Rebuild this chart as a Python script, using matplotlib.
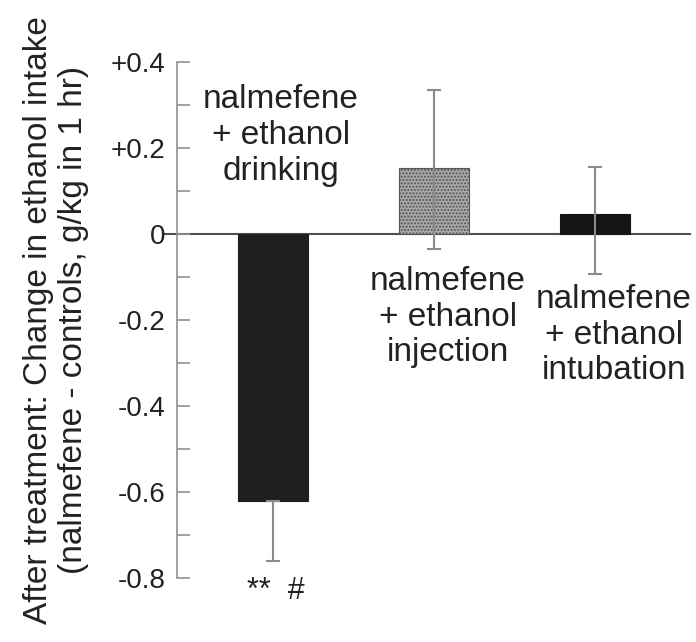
import matplotlib.pyplot as plt
import numpy as np

plt.rcParams['font.family'] = ['Liberation Sans', 'DejaVu Sans']

labels = ["nalmefene\n+ ethanol\ndrinking", "nalmefene\n+ ethanol\ninjection", "nalmefene\n+ ethanol\nintubation"]
values = [-0.62, 0.155, 0.047]
err_low = [0.14, 0.19, 0.14]
err_high = [0.0, 0.18, 0.11]
yticks = [0.4, 0.2, 0.0, -0.2, -0.4, -0.6, -0.8]
yticklabels = ["+0.4", "+0.2", "0", "-0.2", "-0.4", "-0.6", "-0.8"]

fig = plt.figure(figsize=(6.96, 6.42), dpi=100)
ax = fig.add_axes([0.254, 0.0997, 0.737, 0.8033])

x = np.arange(3)
w = 0.435
faces = ['#1e1e1e', '#a8a8a8', '#151515']
hatches = [None, '.....', None]
for i in range(3):
    ax.bar(x[i], values[i], width=w, color=faces[i], edgecolor='#555555' if i == 1 else faces[i],
           hatch=hatches[i], linewidth=0.8, zorder=2)

ax.errorbar(x, values, yerr=[err_low, err_high], fmt='none', ecolor='#8a8a8a',
            elinewidth=1.5, capsize=5, capthick=1.5, zorder=3)

ax.plot([-0.68, 2.59], [0, 0], color='#505050', lw=1.5, clip_on=False, zorder=1)

ax.set_xlim(-0.596, 2.59)
ax.set_ylim(-0.8, 0.4)
ax.set_yticks(yticks)
ax.set_yticklabels(yticklabels)
ax.set_yticks(np.arange(-0.7, 0.4, 0.2), minor=True)
ax.tick_params(axis='y', which='both', direction='in', length=9, width=1.2, color='#909090',
               labelsize=20, pad=8, labelcolor='#222222')
ax.tick_params(axis='x', bottom=False, labelbottom=False)
for s in ['top', 'right', 'bottom']:
    ax.spines[s].set_visible(False)
ax.spines['left'].set_color('#909090')
ax.spines['left'].set_linewidth(1.2)

ax.set_ylabel("After treatment: Change in ethanol intake\n(nalmefene - controls, g/kg in 1 hr)",
              fontsize=24, labelpad=16, linespacing=1.15, color='#222222')

txt_kw = dict(ha='center', va='center', fontsize=24, linespacing=1.2, color='#222222')
ax.text(0.05, 0.23, labels[0], **txt_kw)
ax.text(1.087, -0.193, labels[1], **txt_kw)
ax.text(2.12, -0.235, labels[2], **txt_kw)
ax.text(0.02, -0.83, "**  #", ha='center', va='center', fontsize=22, color='#222222', clip_on=False)

fig.savefig('out.png', dpi=100)
